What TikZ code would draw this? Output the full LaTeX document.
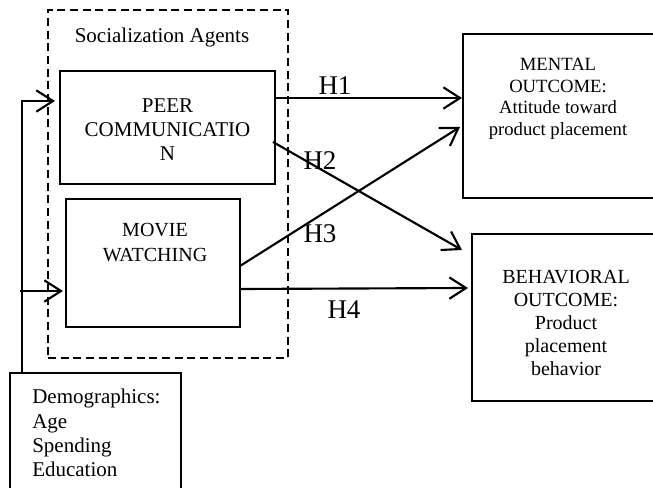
\documentclass[tikz,border=0pt]{standalone}
\usepackage{fontspec}
\setmainfont{Liberation Serif}
\usetikzlibrary{arrows.meta,calc}
\tikzset{
  box/.style={draw, line width=1.2pt, inner sep=0pt, outer sep=0pt, anchor=north west},
  dashbox/.style={draw, line width=1pt, dash pattern=on 6pt off 3.5pt, inner sep=0pt, outer sep=0pt, anchor=north west},
  arr/.style={line width=1.6pt, -{Straight Barb[length=12.5pt,width=16pt,line width=1.6pt]}},
  txt/.style={inner sep=0pt, align=center},
  hlab/.style={inner sep=0pt, anchor=base, font=\fontsize{20.25pt}{24pt}\selectfont},
}
\begin{document}
\begin{tikzpicture}[x=0.75pt,y=-0.75pt]
\useasboundingbox (0,0) rectangle (653,488);
\clip (0,0) rectangle (653,488);
% boxes
\node[dashbox, minimum width=180pt, minimum height=261pt] (soc) at (48,10) {};
\node[box, minimum width=161.25pt, minimum height=84.75pt] (peer) at (60,71) {};
\node[box, minimum width=130.5pt, minimum height=96pt] (movie) at (66,199) {};
\node[box, minimum width=145pt, minimum height=123pt] (mental) at (463,34) {};
\node[box, minimum width=142.5pt, minimum height=125.25pt] (behav) at (472,234) {};
\node[box, minimum width=128.25pt, minimum height=97.5pt] (demo) at (10,373) {};
% texts
\node[txt, anchor=base, font=\fontsize{15.75pt}{18pt}\selectfont] (soclab) at (162,43) {Socialization Agents};
\node[txt, anchor=north, font=\fontsize{15.75pt}{18pt}\selectfont] (peertxt) at (167.5,98) {PEER\\COMMUNICATIO\\N};
\node[txt, anchor=north, font=\fontsize{15pt}{18.75pt}\selectfont] (movietxt) at (155,223) {MOVIE\\WATCHING};
\node[txt, anchor=north, font=\fontsize{14pt}{16.25pt}\selectfont] (mentaltxt) at (558,58) {MENTAL\\OUTCOME:\\Attitude toward\\product placement};
\node[txt, anchor=north, font=\fontsize{15pt}{17.25pt}\selectfont] (behavtxt) at (566,270) {BEHAVIORAL\\OUTCOME:\\Product\\placement\\behavior};
\node[inner sep=0pt, align=left, anchor=north west, font=\fontsize{15.75pt}{18.2pt}\selectfont] (demotxt) at (32,389) {Demographics:\\Age\\Spending\\Education};
% hypothesis labels
\node[hlab] (h1) at (335,95) {H1};
\node[hlab] (h2) at (320,170) {H2};
\node[hlab] (h3) at (320,243) {H3};
\node[hlab] (h4) at (344,318) {H4};
% connectors
\draw[arr] ($(demo.north west)+(12,0)$) |- ($(peer.west)+(-5,-26.5)$);
\draw[arr] ($(demo.north west)+(10,-82)$) -- ($(movie.west)+(-3,28)$);
\draw[arr] ($(peer.east)+(0,-29.5)$) -- ($(mental.west)+(-1,-18)$);
\draw[arr] ($(peer.east)+(-2,14.5)$) -- ($(behav.west)+(-10,-67.5)$);
\draw[arr] ($(movie.east)+(0,3)$) -- ($(mental.west)+(-3,11)$);
\draw[arr] ($(movie.east)+(0,26)$) -- ($(behav.west)+(-4,-29.5)$);
\end{tikzpicture}
\end{document}
